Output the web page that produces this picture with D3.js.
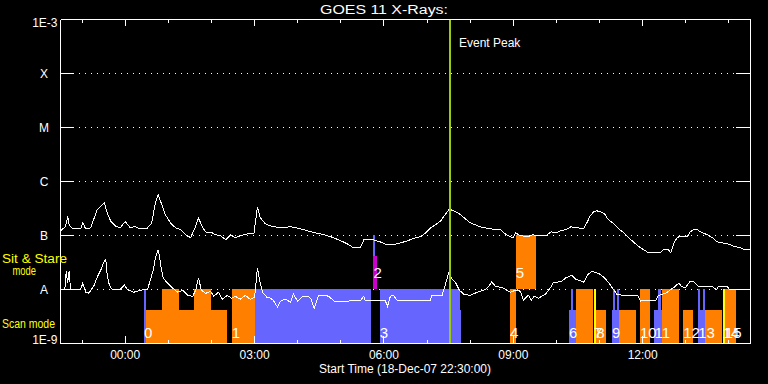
<!DOCTYPE html>
<html><head><meta charset="utf-8">
<script src="https://cdn.jsdelivr.net/npm/d3@7"></script>
<style>
html,body{margin:0;padding:0;background:#000;}
svg{display:block;background:#000;}
</style></head><body>
<svg id="c" width="768" height="384"></svg>
<script>
// ---------------- data ----------------
const chartTitle = "GOES 11 X-Rays:";
const xAxisTitle = "Start Time (18-Dec-07 22:30:00)";
const startTime = "22:30";           // 18-Dec-07
const endTime = "14:30";             // 19-Dec-07
const eventPeak = "07:33";
const eventLabel = "Event Peak";
const fluxTicks = [1e-8, 1e-7, 1e-6, 1e-5, 1e-4];
const fluxTickLabels = ["A", "B", "C", "M", "X"];
const fluxEnds = [1e-9, 1e-3];
const fluxEndLabels = ["1E-9", "1E-3"];
const timeTicks = ["00:00", "03:00", "06:00", "09:00", "12:00"];
const modeNames = ["Scan mode", "Sit & Stare", "mode"];

// GOES long channel (1-8 A), watts/m^2
const goesLong = [
["22:30",1.22e-7],["22:37",1.47e-7],["22:40",2.25e-7],["22:42",1.58e-7],["22:47",1.33e-7],
["22:58",1.33e-7],["23:01",1.72e-7],["23:05",1.33e-7],["23:12",1.39e-7],["23:16",1.95e-7],
["23:21",2.99e-7],["23:27",3.55e-7],["23:31",4.03e-7],["23:35",2.63e-7],["23:40",1.82e-7],
["23:46",1.51e-7],["23:53",1.39e-7],["00:00",1.82e-7],["00:07",1.39e-7],["00:13",1.47e-7],
["00:21",1.33e-7],["00:30",1.33e-7],["00:37",1.72e-7],["00:42",4.03e-7],["00:46",5.67e-7],
["00:50",4.03e-7],["00:56",2.42e-7],["01:03",1.72e-7],["01:10",1.39e-7],["01:17",1.28e-7],
["01:24",1.03e-7],["01:31",9.1e-8],["01:38",1.47e-7],["01:42",2.10e-7],["01:48",1.39e-7],
["01:53",1.12e-7],["02:00",1.14e-7],["02:06",1.03e-7],["02:13",9.9e-8],["02:20",8.3e-8],
["02:27",1.03e-7],["02:33",9.1e-8],["02:40",9.9e-8],["02:50",1.07e-7],["02:59",1.07e-7],
["03:04",3.40e-7],["03:08",2.13e-7],["03:15",1.65e-7],["03:22",1.51e-7],["03:36",1.39e-7],
["03:50",1.45e-7],["04:04",1.33e-7],["04:14",1.22e-7],["04:25",1.12e-7],["04:32",1.07e-7],
["04:46",9.5e-8],["05:00",8.0e-8],["05:09",7.0e-8],["05:18",5.9e-8],["05:27",5.9e-8],
["05:32",8.3e-8],["05:45",8.3e-8],["05:55",7.6e-8],["06:05",6.7e-8],["06:19",7.0e-8],
["06:33",8.0e-8],["06:44",9.1e-8],["06:51",9.5e-8],["06:58",1.12e-7],["07:05",1.39e-7],
["07:12",1.58e-7],["07:19",1.87e-7],["07:26",2.52e-7],["07:31",3.08e-7],["07:40",2.75e-7],
["07:47",2.42e-7],["07:53",2.04e-7],["08:00",1.72e-7],["08:07",1.58e-7],["08:14",1.45e-7],
["08:28",1.33e-7],["08:42",1.28e-7],["08:49",1.07e-7],["08:56",9.5e-8],["09:00",9.1e-8],
["09:03",1.12e-7],["09:10",9.9e-8],["09:20",9.5e-8],["09:27",1.03e-7],["09:34",9.9e-8],
["09:45",9.9e-8],["09:53",1.17e-7],["10:00",1.12e-7],["10:06",1.22e-7],["10:13",1.28e-7],
["10:20",1.45e-7],["10:27",1.39e-7],["10:38",1.36e-7],["10:43",1.79e-7],["10:47",2.32e-7],
["10:52",2.75e-7],["10:56",2.87e-7],["11:01",2.75e-7],["11:07",2.52e-7],["11:11",2.04e-7],
["11:18",1.72e-7],["11:25",1.39e-7],["11:32",1.17e-7],["11:39",9.5e-8],["11:47",7.6e-8],
["11:57",5.9e-8],["12:04",5.2e-8],["12:07",4.8e-8],["12:25",4.8e-8],["12:28",5.4e-8],
["12:36",5.4e-8],["12:39",4.8e-8],["12:43",7.0e-8],["12:47",8.7e-8],["12:50",9.5e-8],
["13:02",9.5e-8],["13:06",1.17e-7],["13:11",1.28e-7],["13:16",1.28e-7],["13:20",1.17e-7],
["13:30",1.03e-7],["13:37",9.1e-8],["13:44",7.6e-8],["13:58",7.0e-8],["14:06",6.4e-8],
["14:16",5.9e-8],["14:23",5.4e-8],["14:30",5.4e-8]
];

// GOES short channel (0.5-4 A), watts/m^2
const goesShort = [
["22:30",1.0e-8],["22:36",1.0e-8],["22:38",2.18e-8],["22:40",1.31e-8],["22:42",2.18e-8],
["22:44",1.0e-8],["22:58",1.0e-8],["23:01",1.31e-8],["23:05",8.9e-9],["23:09",8.5e-9],
["23:13",1.0e-8],["23:17",1.20e-8],["23:21",1.69e-8],["23:26",2.28e-8],["23:30",3.20e-8],
["23:33",3.64e-8],["23:35",1.84e-8],["23:38",1.20e-8],["23:42",1.0e-8],["23:53",1.0e-8],
["23:59",1.20e-8],["00:03",1.0e-8],["00:12",8.9e-9],["00:21",9.7e-9],["00:31",1.0e-8],
["00:35",1.49e-8],["00:39",2.28e-8],["00:42",3.80e-8],["00:46",5.46e-8],["00:48",3.80e-8],
["00:50",2.48e-8],["00:53",1.62e-8],["00:59",1.31e-8],["01:06",1.06e-8],["01:13",8.9e-9],
["01:20",9.7e-9],["01:27",7.8e-9],["01:34",7.5e-9],["01:38",9.7e-9],["01:42",1.62e-8],
["01:46",9.7e-9],["01:52",8.5e-9],["01:59",9.3e-9],["02:03",7.5e-9],["02:10",8.9e-9],
["02:15",6.6e-9],["02:22",7.8e-9],["02:28",6.9e-9],["02:33",7.5e-9],["02:40",6.6e-9],
["02:47",7.8e-9],["02:54",6.6e-9],["03:00",7.2e-9],["03:04",2.48e-8],["03:07",1.49e-8],
["03:11",8.9e-9],["03:17",7.2e-9],["03:22",6.9e-9],["03:26",6.3e-9],["03:32",4.7e-9],
["03:36",6.1e-9],["03:43",6.6e-9],["03:50",5.8e-9],["03:54",8.2e-9],["04:00",6.1e-9],
["04:07",7.5e-9],["04:14",7.5e-9],["04:18",6.9e-9],["04:23",4.5e-9],["04:29",7.8e-9],
["04:37",7.8e-9],["04:43",7.5e-9],["04:51",6.1e-9],["05:00",6.1e-9],["05:27",6.15e-9],
["05:32",7.5e-9],["05:34",6.15e-9],["06:02",6.15e-9],["06:05",4.9e-9],["06:09",7.5e-9],
["06:13",7.8e-9],["06:19",6.15e-9],["07:05",6.15e-9],["07:06",7.9e-9],["07:21",7.9e-9],
["07:26",1.31e-8],["07:30",2.03e-8],["07:34",1.62e-8],["07:40",1.31e-8],["07:45",9.7e-9],
["07:51",8.2e-9],["08:00",7.8e-9],["08:10",8.9e-9],["08:21",1.0e-8],["08:27",1.20e-8],
["08:30",1.38e-8],["08:35",1.15e-8],["08:46",1.06e-8],["08:56",8.9e-9],["09:03",9.7e-9],
["09:10",9.3e-9],["09:14",6.3e-9],["09:21",7.8e-9],["09:25",6.3e-9],["09:29",7.5e-9],
["09:35",6.9e-9],["09:45",8.2e-9],["09:52",1.10e-8],["09:56",1.37e-8],["10:06",1.38e-8],
["10:13",1.64e-8],["10:21",1.84e-8],["10:27",1.55e-8],["10:38",1.37e-8],["10:43",1.84e-8],
["10:49",2.18e-8],["10:59",1.98e-8],["11:06",1.69e-8],["11:12",1.37e-8],["11:18",1.06e-8],
["11:24",8.2e-9],["11:32",7.8e-9],["11:43",7.9e-9],["11:53",7.8e-9],["11:57",6.1e-9],
["12:04",6.3e-9],["12:18",6.3e-9],["12:22",7.8e-9],["12:32",8.5e-9],["12:39",1.0e-8],
["12:44",1.10e-8],["12:50",1.31e-8],["12:54",1.15e-8],["12:59",1.06e-8],["13:06",1.43e-8],
["13:12",1.37e-8],["13:18",1.12e-8],["13:37",1.12e-8],["13:43",1.0e-8],["13:45",1.12e-8],
["13:58",1.12e-8],["14:01",1.0e-8],["14:30",1.0e-8]
];

// observing blocks: [start, end, base level, top level, kind]
// level 0 = bottom, 1 = full scan mode, 2 = full sit & stare
const obsBars = [
["00:27","00:30",0,1,"k1"],
["00:30","02:22",0,0.62,"k2"],
["00:52","01:16",0,1,"k2"],
["01:36","02:00",0,1,"k2"],
["02:29","03:01",0,1,"k2"],
["03:01","05:43",0,1,"k1"],
["05:46","05:48",1,2,"k1"],
["05:46","05:51",1,1.62,"k3"],
["05:55","07:47",0,1,"k1"],
["07:47","07:48",0,0.62,"k1"],
["08:56","09:05",0,1,"k2"],
["09:04","09:32",1,2,"k2"],
["10:18","10:28",0,0.62,"k1"],
["10:21","10:24",0,1,"k1"],
["10:28","10:52",0,1,"k2"],
["10:56","11:09",0,0.62,"k2"],
["10:53","10:56",0,1,"k4"],
["11:18","11:28",0,0.62,"k1"],
["11:19","11:22",0,1,"k1"],
["11:25","11:28",0,1,"k1"],
["11:28","11:52",0,0.62,"k2"],
["11:57","12:11",0,1,"k2"],
["12:17","12:28",0,0.62,"k1"],
["12:22","12:26",0,1,"k1"],
["12:28","12:51",0,1,"k2"],
["12:57","13:11",0,0.62,"k2"],
["13:18","13:27",0,0.62,"k1"],
["13:18","13:21",0,1,"k1"],
["13:24","13:27",0,1,"k1"],
["13:27","13:51",0,0.62,"k2"],
["13:52","13:55",0,1,"k4"],
["13:55","14:10",0,1,"k2"]
];

// block numbers: [label, start time, mode]
const obsLabels = [
["0","00:27","scan"],["1","02:29","scan"],["2","05:46","stare"],["3","05:55","scan"],
["4","08:56","scan"],["5","09:04","stare"],["6","10:18","scan"],["7","10:53","scan"],
["8","10:56","scan"],["9","11:18","scan"],["10","11:57","scan"],["11","12:17","scan"],
["12","12:57","scan"],["13","13:18","scan"],["14","13:52","scan"],["15","13:55","scan"]
];

// ---------------- drawing ----------------
const FONT = "'Liberation Sans', Arial, sans-serif";
const kindColor = d3.scaleOrdinal()
  .domain(["k1","k2","k3","k4"])
  .range(["#6666ff","#ff8000","#cc00cc","#ffff00"]);

function parseT(s) {
  const [h, m] = s.split(":").map(Number);
  const day = (h * 60 + m >= 22 * 60 + 30) ? 18 : 19;
  return new Date(2007, 11, day, h, m);
}

const svg = d3.select("#c").style("font-family", FONT);
const L = 60, R = 750, T = 19, B = 343;

const x = d3.scaleTime().domain([parseT(startTime), parseT(endTime)]).range([L, R]);
const y = d3.scaleLog().domain([fluxEnds[0], fluxEnds[1]]).range([B, T]);
const modeY = d3.scaleLinear().domain([0, 2]).range([y(1e-9), y(1e-7)]);

// dotted level lines
svg.append("g").selectAll("line").data(fluxTicks).join("line")
  .attr("x1", 79).attr("x2", 736)
  .attr("y1", d => Math.round(y(d)) + 0.5).attr("y2", d => Math.round(y(d)) + 0.5)
  .attr("stroke", "#fff").attr("stroke-width", 1).attr("stroke-dasharray", "1 5")
  .attr("shape-rendering", "crispEdges");

// observing blocks
svg.append("g").selectAll("rect").data(obsBars).join("rect")
  .attr("x", d => x(parseT(d[0])))
  .attr("width", d => Math.max(1, x(parseT(d[1])) - x(parseT(d[0]))))
  .attr("y", d => modeY(d[3]))
  .attr("height", d => modeY(d[2]) - modeY(d[3]))
  .attr("fill", d => kindColor(d[4]))
  .attr("shape-rendering", "crispEdges");

// block numbers
svg.append("g").selectAll("text").data(obsLabels).join("text")
  .attr("x", d => x(parseT(d[1])))
  .attr("y", d => d[2] === "scan" ? modeY(0) - 5 : modeY(1) - 11)
  .attr("fill", "#fff").attr("font-size", 15).attr("font-family", FONT)
  .text(d => d[0]);

// GOES curves
const line = d3.line().x(d => x(parseT(d[0]))).y(d => y(d[1]));
[goesLong, goesShort].forEach(series => {
  svg.append("path").datum(series)
    .attr("d", line).attr("transform", "translate(0.5,0.5)")
    .attr("fill", "none").attr("stroke", "#fff").attr("stroke-width", 1)
    .attr("shape-rendering", "crispEdges");
});

// event peak
const px = Math.round(x(parseT(eventPeak)));
svg.append("line").attr("x1", px).attr("x2", px).attr("y1", T).attr("y2", B + 1)
  .attr("stroke", "#99cc11").attr("stroke-width", 2).attr("shape-rendering", "crispEdges");
svg.append("text").attr("x", px + 9).attr("y", 47).attr("fill", "#fff")
  .attr("font-size", 12).text(eventLabel);

// axes
function styleAxis(g) {
  g.selectAll("path,line").attr("stroke", "#fff").attr("shape-rendering", "crispEdges");
  g.selectAll("text").attr("fill", "#fff").attr("font-family", FONT).attr("font-size", 12);
}
const hourTicks = d3.timeHour.every(1).range(parseT(startTime), parseT(endTime));
const majorTicks = timeTicks.map(parseT);

svg.append("g").attr("transform", `translate(0,${B})`)
  .call(d3.axisBottom(x).tickValues(hourTicks).tickSize(-3.5).tickSizeOuter(0).tickFormat(""))
  .call(styleAxis);
svg.append("g").attr("transform", `translate(0,${B})`)
  .call(d3.axisBottom(x).tickValues(majorTicks).tickSize(-7).tickSizeOuter(0).tickPadding(7.5)
    .tickFormat((d, i) => timeTicks[i]))
  .call(styleAxis);
svg.append("g").attr("transform", `translate(0,${T})`)
  .call(d3.axisTop(x).tickValues(hourTicks).tickSize(-3.5).tickSizeOuter(0).tickFormat(""))
  .call(styleAxis);
svg.append("g").attr("transform", `translate(0,${T})`)
  .call(d3.axisTop(x).tickValues(majorTicks).tickSize(-7).tickSizeOuter(0).tickFormat(""))
  .call(styleAxis);
svg.append("g").attr("transform", `translate(${L},0)`)
  .call(d3.axisLeft(y).tickValues(fluxTicks).tickSize(-14).tickSizeOuter(0).tickFormat(""))
  .call(styleAxis);
svg.append("g").attr("transform", `translate(${R},0)`)
  .call(d3.axisRight(y).tickValues(fluxTicks).tickSize(-14).tickSizeOuter(0).tickFormat(""))
  .call(styleAxis);

// flux labels
svg.append("g").selectAll("text").data(fluxTicks).join("text")
  .attr("x", 44).attr("y", d => y(d) + 4.5).attr("text-anchor", "middle")
  .attr("fill", "#fff").attr("font-size", 12)
  .text((d, i) => fluxTickLabels[i]);
svg.append("g").selectAll("text").data(fluxEnds).join("text")
  .attr("x", 57.5).attr("y", (d, i) => i === 0 ? y(d) + 0.5 : y(d) + 8)
  .attr("text-anchor", "end").attr("fill", "#fff").attr("font-size", 12)
  .text((d, i) => fluxEndLabels[i]);

// mode labels
svg.append("text").attr("x", 2).attr("y", modeY(0.28)).attr("fill", "#ffff00")
  .attr("font-size", 12.5).attr("textLength", 53).attr("lengthAdjust", "spacingAndGlyphs")
  .text(modeNames[0]);
svg.append("text").attr("x", 2).attr("y", modeY(1.48)).attr("fill", "#ffff00")
  .attr("font-size", 12.5).attr("textLength", 65).attr("lengthAdjust", "spacingAndGlyphs")
  .text(modeNames[1]);
svg.append("text").attr("x", 12.5).attr("y", modeY(1.26)).attr("fill", "#ffff00")
  .attr("font-size", 12.5).attr("textLength", 23.5).attr("lengthAdjust", "spacingAndGlyphs")
  .text(modeNames[2]);

// titles
svg.append("text").attr("x", 384).attr("y", 14).attr("text-anchor", "middle")
  .attr("fill", "#fff").attr("font-size", 12)
  .attr("textLength", 128).attr("lengthAdjust", "spacingAndGlyphs").text(chartTitle);
svg.append("text").attr("x", (L + R) / 2).attr("y", 373).attr("text-anchor", "middle")
  .attr("fill", "#fff").attr("font-size", 12).text(xAxisTitle);
</script>
</body></html>
